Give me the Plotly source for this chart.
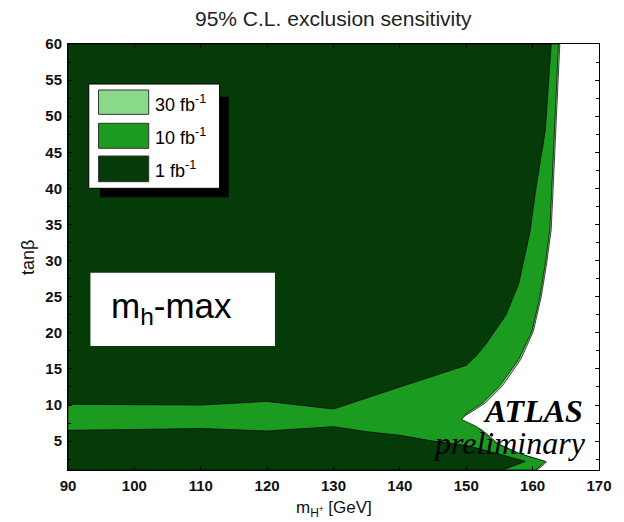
import plotly.graph_objects as go

# Exclusion contours in the (m_H+, tan(beta)) plane, m_h-max scenario.
# 30 fb^-1 contour: right-hand boundary, top to bottom
lum30_m = [164.1, 163.5, 162.8, 162.1, 161.3, 160.1, 158.2, 155.4, 152.9, 150.7, 148.6, 150.6, 152.3, 154.9, 158.2, 162.1, 160.7]
lum30_tb = [60, 48, 34.3, 29.5, 25.0, 20.2, 16.3, 12.6, 10.3, 9.0, 7.9, 7.2, 6.6, 4.6, 3.2, 2.1, 1.0]

# 10 fb^-1 contour: right-hand boundary, top to bottom
lum10_m = [163.9, 163.3, 162.6, 161.9, 161.1, 159.9, 157.9, 155.0, 152.5, 150.3, 149.3, 151.6, 154.5, 157.9, 161.9, 160.5]
lum10_tb = [60, 48, 34.3, 29.5, 25.0, 20.2, 16.3, 12.6, 10.3, 9.0, 8.0, 7.0, 4.7, 3.3, 2.2, 1.0]

# 1 fb^-1 contour, high tan(beta) lobe: lower boundary, left to right
lum1_hi_m = [90, 100, 110, 120, 130, 140, 150, 151.5, 153, 156, 157.9, 159.6, 160.5, 161.9, 162.8]
lum1_hi_tb = [10.1, 10.05, 10.0, 10.5, 9.45, 12.5, 15.5, 16.8, 18.5, 22.5, 26.8, 34.0, 40.0, 48.0, 60]

# 1 fb^-1 contour, low tan(beta) lobe: upper boundary, left to right
lum1_lo_m = [90, 100, 110, 120, 130, 135, 140, 145, 150, 153, 156, 158.9, 155.5]
lum1_lo_tb = [6.5, 6.6, 6.75, 6.4, 7.0, 6.3, 5.8, 5.0, 4.4, 3.7, 2.9, 2.2, 1.0]

x_ticks = [90, 100, 110, 120, 130, 140, 150, 160, 170]
y_ticks = [5, 10, 15, 20, 25, 30, 35, 40, 45, 50, 55, 60]

M_MIN, M_MAX = 90, 170
TB_MIN, TB_MAX = 1, 60

C30 = "#8bd98b"
C10 = "#1b9b1f"
C1 = "#053a09"
EDGE = dict(color="black", width=0.7)

W, H = 624, 522
ML, MR, MT, MB = 68, 12, 44, 52
PW, PH = W - ML - MR, H - MT - MB

SANS = "Liberation Sans, Arial"
SERIF = "Liberation Serif, Times New Roman"


def px(x):
    return (x - ML) / PW


def py(y):
    return (H - MB - y) / PH


fig = go.Figure()

fig.add_trace(go.Scatter(
    x=[M_MIN, M_MIN] + lum30_m + [M_MIN], y=[TB_MIN, TB_MAX] + lum30_tb + [TB_MIN],
    fill="toself", fillcolor=C30, mode="lines", line=EDGE, name="30 fb-1",
    showlegend=False, hoverinfo="skip"))
fig.add_trace(go.Scatter(
    x=[M_MIN, M_MIN] + lum10_m + [M_MIN], y=[TB_MIN, TB_MAX] + lum10_tb + [TB_MIN],
    fill="toself", fillcolor=C10, mode="lines", line=EDGE, name="10 fb-1",
    showlegend=False, hoverinfo="skip"))
fig.add_trace(go.Scatter(
    x=lum1_hi_m + [M_MIN, M_MIN], y=lum1_hi_tb + [TB_MAX, lum1_hi_tb[0]],
    fill="toself", fillcolor=C1, mode="lines", line=EDGE, name="1 fb-1",
    showlegend=False, hoverinfo="skip"))
fig.add_trace(go.Scatter(
    x=[M_MIN] + lum1_lo_m + [M_MIN], y=[TB_MIN] + lum1_lo_tb + [TB_MIN],
    fill="toself", fillcolor=C1, mode="lines", line=EDGE, name="1 fb-1",
    showlegend=False, hoverinfo="skip"))

tick_font = dict(family=SANS, size=15, color="#111")
axis_common = dict(
    showgrid=False, zeroline=False, showline=True, linecolor="black", linewidth=1,
    mirror="ticks", ticks="inside", ticklen=4, tickcolor="black", tickwidth=1,
    layer="above traces", tickfont=tick_font, ticklabeloverflow="allow",
)

fig.update_xaxes(range=[M_MIN, M_MAX], tickvals=x_ticks,
                 ticktext=[f"<b>{v}</b>" for v in x_ticks], ticklabelstandoff=2,
                 **axis_common)
fig.update_yaxes(range=[TB_MIN, TB_MAX], tickvals=y_ticks,
                 ticktext=[f"<b>{v}</b>" for v in y_ticks], ticklabelstandoff=2,
                 minor=dict(ticks="inside", dtick=2.5, ticklen=3, tickcolor="black"),
                 **axis_common)

shapes = []
annotations = []

# legend with drop shadow
shapes.append(dict(type="rect", xref="paper", yref="paper", layer="above",
                   x0=px(100.7), x1=px(232.7), y0=py(197.3), y1=py(96.7),
                   fillcolor="black", line=dict(width=0)))
shapes.append(dict(type="rect", xref="paper", yref="paper", layer="above",
                   x0=px(89.3), x1=px(223.3), y0=py(188.3), y1=py(84),
                   fillcolor="white", line=dict(color="black", width=1)))
legend_rows = [("30 fb<sup>-1</sup>", C30, 90, 114.3),
               ("10 fb<sup>-1</sup>", C10, 123.3, 148.3),
               ("1 fb<sup>-1</sup>", C1, 156, 181.7)]
for label, color, top, bot in legend_rows:
    shapes.append(dict(type="rect", xref="paper", yref="paper", layer="above",
                       x0=px(99.3), x1=px(150.7), y0=py(bot), y1=py(top),
                       fillcolor=color, line=dict(color="#333", width=1)))
    annotations.append(dict(xref="paper", yref="paper", x=px(155), y=py((top + bot) / 2 + 1),
                            xanchor="left", yanchor="middle", showarrow=False, text=label,
                            font=dict(family=SANS, size=18, color="black")))

# scenario label box
shapes.append(dict(type="rect", xref="paper", yref="paper", layer="above",
                   x0=px(91), x1=px(280), y0=py(346), y1=py(272.7),
                   fillcolor="white", line=dict(width=0)))
annotations.append(dict(xref="paper", yref="paper", x=px(110), y=py(308),
                        xanchor="left", yanchor="middle", showarrow=False,
                        text="m<sub>h</sub>-max",
                        font=dict(family=SANS, size=35, color="black")))

annotations.append(dict(xref="paper", yref="paper", x=px(598), y=py(411),
                        xanchor="right", yanchor="middle", showarrow=False,
                        text="<b><i>ATLAS</i></b>",
                        font=dict(family=SERIF, size=32, color="black")))
annotations.append(dict(xref="paper", yref="paper", x=px(601), y=py(443),
                        xanchor="right", yanchor="middle", showarrow=False,
                        text="<i>preliminary</i>",
                        font=dict(family=SERIF, size=32, color="black")))

# title and axis titles
annotations.append(dict(xref="paper", yref="paper", x=px(340), y=py(19),
                        xanchor="center", yanchor="middle", showarrow=False,
                        text="95% C.L. exclusion sensitivity",
                        font=dict(family=SANS, size=21, color="#222")))
annotations.append(dict(xref="paper", yref="paper", x=px(340), y=py(509),
                        xanchor="center", yanchor="middle", showarrow=False,
                        text="m<sub>H<sup>+</sup></sub> [GeV]",
                        font=dict(family=SANS, size=17, color="#111")))
annotations.append(dict(xref="paper", yref="paper", x=px(27), y=py(257),
                        xanchor="center", yanchor="middle", showarrow=False, textangle=-90,
                        text="tanβ",
                        font=dict(family=SANS, size=18, color="#111")))

fig.update_layout(
    width=W, height=H, margin=dict(l=ML, r=MR, t=MT, b=MB),
    paper_bgcolor="white", plot_bgcolor="white",
    shapes=shapes, annotations=annotations, showlegend=False,
)

fig.write_html("out.html")
